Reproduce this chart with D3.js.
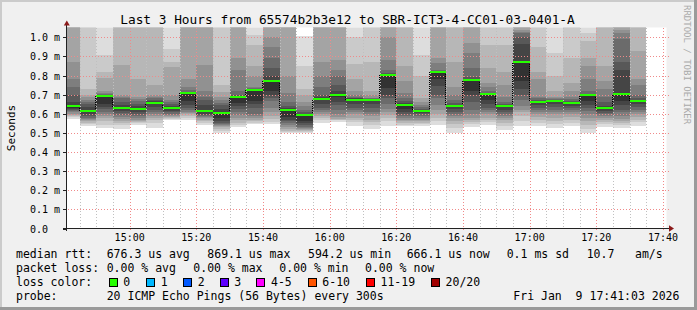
<!DOCTYPE html>
<html><head><meta charset="utf-8">
<script src="https://cdn.jsdelivr.net/npm/d3@7"></script>
<style>body{margin:0;background:#f0f0f0}svg{display:block}text{white-space:pre}</style>
</head><body><svg id="c" width="697" height="310"></svg>
<script>
const title = "Last 3 Hours from 65574b2b3e12 to SBR-ICT3-4-CC01-03-0401-A";
const yTitle = "Seconds";
const times = ["14:45","14:50","14:55","15:00","15:05","15:10","15:15","15:20","15:25","15:30","15:35","15:40","15:45","15:50","15:55","16:00","16:05","16:10","16:15","16:20","16:25","16:30","16:35","16:40","16:45","16:50","16:55","17:00","17:05","17:10","17:15","17:20","17:25","17:30","17:35"];
const medians = [0.639,0.614,0.691,0.628,0.623,0.656,0.628,0.708,0.614,0.602,0.686,0.722,0.771,0.619,0.594,0.675,0.696,0.672,0.672,0.803,0.646,0.616,0.819,0.639,0.775,0.702,0.639,0.869,0.661,0.667,0.656,0.696,0.628,0.702,0.666];
// ping1..ping10 (lower half of the 20 sorted pings), ms
const pingLow = [
[0.575,0.585,0.59,0.595,0.60,0.61,0.615,0.62,0.625,0.632],
[0.535,0.545,0.55,0.56,0.57,0.575,0.58,0.59,0.60,0.61],
[0.528,0.54,0.56,0.58,0.59,0.60,0.61,0.625,0.635,0.65],
[0.523,0.54,0.55,0.56,0.575,0.585,0.595,0.605,0.615,0.625],
[0.54,0.55,0.555,0.56,0.57,0.58,0.59,0.60,0.61,0.62],
[0.528,0.55,0.565,0.58,0.59,0.60,0.61,0.62,0.635,0.65],
[0.566,0.575,0.58,0.585,0.59,0.595,0.60,0.61,0.615,0.625],
[0.57,0.58,0.59,0.60,0.605,0.61,0.62,0.63,0.645,0.665],
[0.54,0.55,0.56,0.57,0.58,0.585,0.59,0.595,0.60,0.61],
[0.50,0.51,0.52,0.53,0.535,0.54,0.545,0.55,0.56,0.58],
[0.53,0.54,0.55,0.565,0.58,0.595,0.61,0.625,0.64,0.655],
[0.545,0.55,0.56,0.57,0.58,0.59,0.60,0.63,0.65,0.665],
[0.545,0.555,0.575,0.59,0.61,0.63,0.665,0.68,0.70,0.72],
[0.50,0.505,0.51,0.52,0.53,0.54,0.55,0.56,0.57,0.585],
[0.50,0.505,0.51,0.515,0.52,0.525,0.53,0.54,0.55,0.56],
[0.55,0.57,0.58,0.59,0.60,0.61,0.62,0.63,0.65,0.67],
[0.556,0.565,0.57,0.575,0.585,0.60,0.62,0.645,0.66,0.69],
[0.537,0.555,0.57,0.58,0.60,0.61,0.62,0.63,0.65,0.67],
[0.518,0.54,0.555,0.57,0.59,0.60,0.61,0.63,0.65,0.67],
[0.537,0.56,0.58,0.595,0.61,0.625,0.65,0.68,0.70,0.735],
[0.535,0.54,0.55,0.56,0.57,0.58,0.59,0.60,0.61,0.625],
[0.535,0.545,0.55,0.56,0.57,0.58,0.59,0.60,0.605,0.615],
[0.54,0.56,0.58,0.60,0.62,0.645,0.68,0.70,0.745,0.78],
[0.502,0.525,0.545,0.56,0.58,0.59,0.60,0.61,0.625,0.637],
[0.532,0.545,0.555,0.57,0.58,0.60,0.62,0.66,0.70,0.72],
[0.54,0.555,0.57,0.58,0.60,0.61,0.62,0.63,0.65,0.67],
[0.516,0.535,0.55,0.57,0.58,0.59,0.60,0.61,0.62,0.637],
[0.535,0.56,0.59,0.61,0.62,0.64,0.67,0.70,0.73,0.77],
[0.535,0.55,0.57,0.585,0.60,0.61,0.62,0.63,0.645,0.66],
[0.525,0.545,0.56,0.58,0.60,0.61,0.62,0.635,0.65,0.666],
[0.535,0.55,0.57,0.585,0.60,0.61,0.62,0.63,0.64,0.655],
[0.502,0.52,0.54,0.56,0.58,0.60,0.615,0.63,0.645,0.665],
[0.53,0.545,0.555,0.57,0.58,0.59,0.60,0.605,0.615,0.626],
[0.525,0.54,0.55,0.56,0.575,0.59,0.61,0.62,0.645,0.665],
[0.535,0.555,0.57,0.585,0.60,0.61,0.62,0.635,0.65,0.665]
];
// ping11..ping20 (upper half), ms
const pingHigh = [
[0.645,0.66,0.70,0.74,0.78,0.87,1.10,1.12,1.15,1.20],
[0.62,0.635,0.65,0.66,0.67,0.69,0.70,0.73,1.10,1.15],
[0.692,0.695,0.70,0.705,0.71,0.72,0.785,0.82,0.91,1.15],
[0.632,0.645,0.66,0.68,0.69,0.70,0.857,1.10,1.12,1.15],
[0.625,0.64,0.65,0.665,0.675,0.69,0.78,1.10,1.12,1.15],
[0.658,0.665,0.67,0.68,0.69,0.70,0.75,1.10,1.12,1.15],
[0.63,0.64,0.65,0.66,0.67,0.70,0.845,0.87,0.94,1.15],
[0.71,0.712,0.715,0.725,0.74,0.78,1.10,1.12,1.15,1.20],
[0.618,0.645,0.67,0.69,0.72,0.857,1.10,1.12,1.15,1.20],
[0.61,0.625,0.645,0.655,0.67,0.69,0.715,0.75,1.10,1.15],
[0.69,0.695,0.70,0.72,0.83,0.89,1.10,1.12,1.15,1.20],
[0.723,0.725,0.73,0.735,0.74,0.80,0.85,0.96,1.01,1.15],
[0.775,0.80,0.84,0.89,0.95,1.00,1.10,1.12,1.15,1.20],
[0.622,0.63,0.64,0.66,0.71,0.80,1.10,1.12,1.15,1.20],
[0.595,0.60,0.61,0.62,0.64,0.66,0.70,0.73,0.85,1.005],
[0.68,0.69,0.70,0.74,0.80,0.87,1.10,1.12,1.15,1.20],
[0.70,0.72,0.75,0.80,0.83,0.88,1.10,1.12,1.15,1.20],
[0.675,0.68,0.685,0.69,0.70,0.72,0.78,0.86,1.00,1.15],
[0.673,0.675,0.678,0.68,0.685,0.70,0.72,0.87,1.10,1.15],
[0.805,0.81,0.815,0.83,0.88,1.00,1.10,1.12,1.15,1.20],
[0.648,0.655,0.665,0.68,0.71,0.77,0.85,1.10,1.12,1.15],
[0.617,0.62,0.625,0.635,0.645,0.66,0.68,0.80,0.91,1.15],
[0.82,0.822,0.825,0.83,0.865,0.89,1.10,1.12,1.15,1.20],
[0.64,0.645,0.655,0.67,0.70,0.74,0.87,1.10,1.12,1.15],
[0.776,0.78,0.79,0.84,0.92,0.97,1.10,1.12,1.15,1.20],
[0.703,0.705,0.71,0.72,0.74,0.76,0.84,0.96,1.10,1.15],
[0.64,0.645,0.65,0.66,0.69,0.75,0.82,0.96,1.10,1.15],
[0.87,0.965,1.00,1.02,1.03,1.04,1.10,1.12,1.15,1.20],
[0.662,0.665,0.67,0.68,0.69,0.78,0.82,0.95,1.10,1.15],
[0.668,0.67,0.672,0.675,0.68,0.69,0.72,0.80,0.92,1.15],
[0.657,0.66,0.665,0.675,0.69,0.72,0.76,0.89,1.10,1.15],
[0.698,0.70,0.705,0.72,0.78,0.85,0.89,0.98,1.02,1.15],
[0.63,0.64,0.66,0.69,0.73,0.77,0.85,1.10,1.12,1.15],
[0.705,0.83,0.87,0.99,1.02,1.04,1.10,1.12,1.15,1.20],
[0.668,0.672,0.68,0.70,0.75,0.78,0.93,1.10,1.12,1.15]
];
const yTicks = [0,0.1,0.2,0.3,0.4,0.5,0.6,0.7,0.8,0.9,1.0];
const yTickLabels = ["0.0","0.1 m","0.2 m","0.3 m","0.4 m","0.5 m","0.6 m","0.7 m","0.8 m","0.9 m","1.0 m"];
const xTickLabels = ["15:00","15:20","15:40","16:00","16:20","16:40","17:00","17:20","17:40"];
const legendRtt = ["median rtt:","676.3 us avg","869.1 us max","594.2 us min","666.1 us now","0.1 ms sd","10.7","am/s"];
const legendLoss = ["packet loss:","0.00 % avg","0.00 % max","0.00 % min","0.00 % now"];
const lossLabels = ["0","1","2","3","4-5","6-10","11-19","20/20"];
const lossColors = ["#26ff00","#00b8ff","#0059ff","#5e00ff","#ff00ff","#ff5500","#ff0000","#a10000"];
const probeText = ["probe:","20 ICMP Echo Pings (56 Bytes) every 300s","Fri Jan  9 17:41:03 2026"];

const svg = d3.select("#c");
const mono = "'DejaVu Sans Mono', monospace";
const day = (hm, s=0) => { const [h,m] = hm.split(":").map(Number); return new Date(2026,0,9,h,m,s); };
const t0 = day("14:41",3), t1 = day("17:41",3);
const x = d3.scaleTime().domain([t0,t1]).range([66.5,666.5]);
const y = d3.scaleLinear().domain([0,1]).range([228.5,37.3]);
const plotTop = 27.5, plotBottom = 228.5, plotLeft = 67, plotRight = 666.5;

// background + frame
svg.append("rect").attr("width",697).attr("height",310).attr("fill","#f0f0f0");
svg.append("rect").attr("x",0).attr("y",0).attr("width",697).attr("height",2).attr("fill","#cbcbcb");
svg.append("rect").attr("x",0).attr("y",0).attr("width",2).attr("height",310).attr("fill","#cbcbcb");
svg.append("rect").attr("x",0).attr("y",307).attr("width",697).attr("height",3).attr("fill","#9a9a9a");
svg.append("rect").attr("x",694).attr("y",0).attr("width",3).attr("height",310).attr("fill","#9a9a9a");

svg.append("rect").attr("x",plotLeft).attr("y",plotTop).attr("width",plotRight-plotLeft).attr("height",plotBottom-plotTop).attr("fill","#fff");
svg.append("clipPath").attr("id","clip").append("rect").attr("x",plotLeft).attr("y",plotTop).attr("width",plotRight-plotLeft).attr("height",plotBottom-plotTop);

// smoke
const cols = times.map((t,i) => {
  const end = day(t), start = new Date(Math.max(+t0, +end - 300000));
  return {i, x0: Math.round(x(start)), x1: Math.round(x(end)), med: medians[i]};
});
const smoke = svg.append("g").attr("clip-path","url(#clip)").attr("shape-rendering","crispEdges");
cols.forEach(c => {
  for (let b = 1; b <= 10; b++) {
    const top = pingHigh[c.i][10-b], bot = pingLow[c.i][b-1];
    const g = Math.floor(190/10*(10-b)) + 50;
    smoke.append("rect").attr("x",c.x0).attr("width",c.x1-c.x0)
      .attr("y",Math.round(y(top))).attr("height",Math.max(0,Math.round(y(bot))-Math.round(y(top))))
      .attr("fill",d3.rgb(g,g,g).formatHex());
  }
});

// grid
const grid = svg.append("g").attr("shape-rendering","crispEdges");
x.ticks(d3.timeMinute.every(5)).forEach(t => {
  const xx = Math.round(x(t)) + 0.5;
  grid.append("line").attr("x1",xx).attr("x2",xx).attr("y1",plotTop).attr("y2",plotBottom)
    .attr("stroke","#c0c0c0").attr("stroke-dasharray","1,2");
});
xTickLabels.forEach(l => {
  const xx = Math.round(x(day(l))) + 0.5;
  grid.append("line").attr("x1",xx).attr("x2",xx).attr("y1",plotTop).attr("y2",plotBottom+2)
    .attr("stroke","#f08a8a").attr("stroke-dasharray","1,2");
});
yTicks.forEach(v => {
  const yy = Math.round(y(v)) + 0.5;
  if (v > 0) grid.append("line").attr("x1",plotLeft-2).attr("x2",plotRight+2).attr("y1",yy).attr("y2",yy)
    .attr("stroke","#f08a8a").attr("stroke-dasharray","1,2");
});

// median: dotted step connectors then green segments
const med = svg.append("g").attr("shape-rendering","crispEdges");
cols.forEach((c,k) => {
  if (k < cols.length-1) {
    const n = cols[k+1];
    const xx = c.x1 - 0.5;
    med.append("line").attr("x1",xx).attr("x2",xx)
      .attr("y1",Math.round(y(c.med))).attr("y2",Math.round(y(n.med)))
      .attr("stroke","#000").attr("stroke-dasharray","1,1");
  }
});
cols.forEach(c => {
  med.append("rect").attr("x",c.x0).attr("width",c.x1-c.x0)
    .attr("y",Math.round(y(c.med))-1).attr("height",2).attr("fill",lossColors[0]);
});

// axes
const ax = svg.append("g").attr("shape-rendering","crispEdges");
ax.append("line").attr("x1",66.5).attr("x2",66.5).attr("y1",24).attr("y2",plotBottom+2).attr("stroke","#222");
ax.append("line").attr("x1",63).attr("x2",670).attr("y1",plotBottom).attr("y2",plotBottom).attr("stroke","#222");
yTicks.forEach(v => {
  const yy = Math.round(y(v)) + 0.5;
  ax.append("line").attr("x1",63).attr("x2",66.5).attr("y1",yy).attr("y2",yy).attr("stroke","#222");
});
svg.append("path").attr("d","M63.8,25.5 L66.8,20.5 L69.8,25.5 Z").attr("fill","#8b1a1a");
svg.append("path").attr("d","M669,225.3 L674,228.5 L669,231.7 Z").attr("fill","#8b1a1a");

// axis labels
const lab = svg.append("g").attr("font-family",mono).attr("fill","#000");
yTicks.forEach((v,i) => {
  lab.append("text").attr("x",30).attr("y",Math.round(y(v))+3.8).attr("font-size",10).text(yTickLabels[i]);
});
xTickLabels.forEach(l => {
  lab.append("text").attr("x",x(day(l))).attr("y",240.8).attr("font-size",10).attr("text-anchor","middle").text(l);
});
lab.append("text").attr("x",347.5).attr("y",24).attr("font-size",12.8).attr("text-anchor","middle").text(title);
lab.append("text").attr("transform","translate(14.8,128) rotate(-90)").attr("font-size",11).attr("text-anchor","middle").text(yTitle);
svg.append("text").attr("transform","translate(683.5,5) rotate(90)").attr("font-family",mono).attr("font-size",9)
  .attr("fill","#aaaaaa").text("RRDTOOL / TOBI OETIKER");

// legend
const lg = svg.append("g").attr("font-family",mono).attr("font-size",11.5).attr("fill","#000");
const rttX = [16,106.7,207.3,308,406.7,506.7,586.7,635];
legendRtt.forEach((s,i) => lg.append("text").attr("x",rttX[i]).attr("y",258.3).text(s));
const lossX = [16,106.7,193.3,279.3,365];
legendLoss.forEach((s,i) => lg.append("text").attr("x",lossX[i]).attr("y",272.3).text(s));
lg.append("text").attr("x",16).attr("y",286.2).text("loss color:");
const boxX = [108.5,146,183,219.5,256.2,307.5,365.7,430.8];
lossLabels.forEach((l,i) => {
  svg.append("rect").attr("x",boxX[i]+0.5).attr("y",278.5).attr("width",8).attr("height",8)
    .attr("fill",lossColors[i]).attr("stroke","#000").attr("shape-rendering","crispEdges");
  lg.append("text").attr("x",boxX[i]+14.8).attr("y",286.2).text(l);
});
lg.append("text").attr("x",16).attr("y",300.2).text(probeText[0]);
lg.append("text").attr("x",106.7).attr("y",300.2).text(probeText[1]);
lg.append("text").attr("x",513.3).attr("y",300.2).text(probeText[2]);
</script></body></html>
